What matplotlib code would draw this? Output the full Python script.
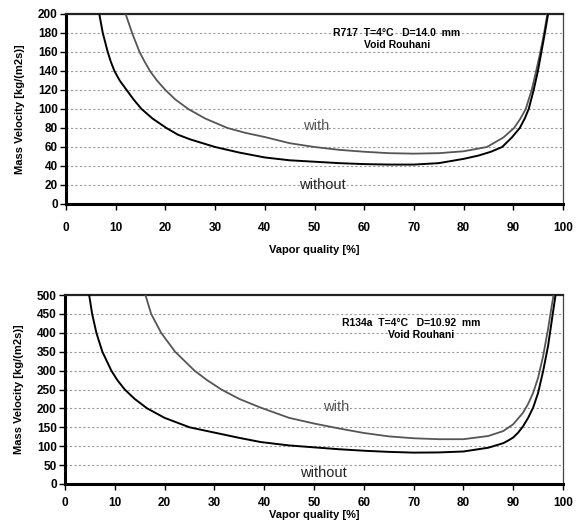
import matplotlib
matplotlib.use("Agg")
import matplotlib.pyplot as plt

plt.rcParams['font.family'] = ['Liberation Sans', 'DejaVu Sans']

# ---- R717 (ammonia), D = 14.0 mm ----
r717_without_x = [6.0, 6.7, 7.4, 8.4, 9.0, 9.75, 10.8, 12.2, 13.6, 15.2, 17.4, 20.2, 22.5,
                  25.0, 27.5, 30.0, 35.0, 40.0, 45.0, 50.0, 55.0, 60.0, 65.0, 70.0, 75.0,
                  80.0, 83.0, 85.5, 87.75, 89.7, 91.3, 92.3, 93.1, 94.1, 94.95, 95.65,
                  96.35, 97.0, 97.55]
r717_without_y = [222, 200, 180, 160, 150, 140, 130, 120, 110, 100, 90, 80, 73,
                  68, 64, 60, 54, 49, 46, 44.5, 43, 42, 41.5, 41.5, 43,
                  47.5, 51, 55, 60, 70, 80, 90, 100, 120, 140, 160,
                  180, 200, 220]
r717_with_x = [11.4, 12.0, 13.3, 14.8, 15.8, 16.9, 18.3, 20.0, 22.0, 24.6, 28.0, 32.5, 36.0,
               40.0, 45.0, 50.0, 55.0, 60.0, 65.0, 70.0, 75.0, 80.0, 84.7, 88.0, 90.15,
               91.45, 92.5, 93.7, 94.6, 95.45, 96.2, 96.85, 97.35]
r717_with_y = [215, 200, 180, 160, 150, 140, 130, 120, 110, 100, 90, 80, 75,
               70.5, 64, 60, 57, 55, 53.5, 53, 53.5, 55.5, 60, 70, 80,
               90, 100, 120, 140, 160, 180, 200, 220]

# ---- R134a, D = 10.92 mm ----
r134a_without_x = [4.6, 4.85, 5.45, 6.3, 7.5, 9.3, 10.5, 12.0, 14.0, 16.5, 20.0, 25.0, 30.0,
                   35.0, 39.3, 45.0, 50.0, 55.0, 60.0, 65.0, 70.0, 75.0, 80.0, 85.0, 88.0,
                   89.0, 90.0, 91.0, 92.0, 93.0, 94.0, 95.0, 96.0, 97.0, 97.5, 98.0,
                   98.5, 98.85]
r134a_without_y = [530, 500, 450, 400, 350, 300, 275, 250, 225, 200, 175, 150, 136,
                   122, 111, 102, 97, 92, 88, 85, 83, 83.5, 86, 96, 108,
                   115, 123, 136, 153, 175, 202, 241, 298, 365, 410, 455,
                   500, 540]
r134a_with_x = [15.8, 16.15, 17.3, 19.3, 22.1, 26.0, 28.5, 31.4, 35.0, 39.3, 45.0, 50.0,
                55.0, 60.0, 65.0, 70.0, 75.0, 80.0, 85.0, 88.0, 90.0, 92.0, 93.0, 94.0,
                95.0, 96.0, 97.0, 97.6, 98.1, 98.45]
r134a_with_y = [530, 500, 450, 400, 350, 300, 275, 250, 225, 202, 175, 160,
                147, 135, 126, 121, 118.5, 118.5, 127, 140, 158, 189, 212, 241,
                281, 338, 410, 460, 500, 540]

x_ticks = list(range(0, 101, 10))
top_y_ticks = list(range(0, 201, 20))
bottom_y_ticks = list(range(0, 501, 50))

W, H = 587, 532
fig = plt.figure(figsize=(W / 100, H / 100), dpi=100)


def px_axes(left, top, right, bottom):
    return fig.add_axes([left / W, 1 - bottom / H, (right - left) / W, (bottom - top) / H])


def style_axes(ax, yticks, ymax, xpad):
    ax.set_xlim(0, 100)
    ax.set_ylim(0, ymax)
    ax.set_xticks(x_ticks)
    ax.set_yticks(yticks)
    for y in yticks[1:-1]:
        ax.axhline(y, color='#9a9a9a', lw=0.8, ls=(0, (2, 2)), zorder=1)
    for side in ('left', 'bottom'):
        ax.spines[side].set_linewidth(2.2)
        ax.spines[side].set_color('black')
    ax.spines['top'].set_linewidth(1.6)
    ax.spines['top'].set_color('#222222')
    ax.spines['right'].set_linewidth(0.9)
    ax.spines['right'].set_color('#444444')
    ax.tick_params(direction='out', length=4, width=1, colors='black', labelsize=8.5)
    ax.tick_params(axis='x', pad=xpad)
    ax.tick_params(axis='y', pad=2)
    for lab in ax.get_xticklabels() + ax.get_yticklabels():
        lab.set_fontweight('bold')
    ax.set_ylabel('Mass Velocity [kg/(m2s)]', fontsize=8, fontweight='bold', labelpad=9)


# Top panel: R717
ax1 = px_axes(66, 14, 563, 204)
style_axes(ax1, top_y_ticks, 200, xpad=9)
ax1.plot(r717_with_x, r717_with_y, color='#555555', lw=1.3, zorder=3)
ax1.plot(r717_without_x, r717_without_y, color='black', lw=1.4, zorder=3)
ax1.set_xlabel('Vapor quality [%]', fontsize=8, fontweight='bold', labelpad=8)
ax1.text(66.6, 180, 'R717  T=4°C   D=14.0  mm', fontsize=7.5, fontweight='bold',
         ha='center', va='center')
ax1.text(66.6, 167.5, 'Void Rouhani', fontsize=7.5, fontweight='bold', ha='center', va='center')
ax1.text(50.3, 82, 'with', fontsize=10.5, color='#555555', ha='center', va='center')
ax1.text(51.6, 20, 'without', fontsize=10.5, color='#222222', ha='center', va='center')

# Bottom panel: R134a
ax2 = px_axes(65, 295, 563, 484)
style_axes(ax2, bottom_y_ticks, 500, xpad=5)
ax2.plot(r134a_with_x, r134a_with_y, color='#555555', lw=1.3, zorder=3)
ax2.plot(r134a_without_x, r134a_without_y, color='black', lw=1.4, zorder=3)
ax2.set_xlabel('Vapor quality [%]', fontsize=8, fontweight='bold', labelpad=1)
ax2.text(69.5, 427, 'R134a  T=4°C   D=10.92  mm', fontsize=7.5, fontweight='bold',
         ha='center', va='center')
ax2.text(71.5, 394, 'Void Rouhani', fontsize=7.5, fontweight='bold', ha='center', va='center')
ax2.text(54.4, 204, 'with', fontsize=10.5, color='#555555', ha='center', va='center')
ax2.text(51.9, 29, 'without', fontsize=10.5, color='#222222', ha='center', va='center')

fig.savefig('out.png', dpi=100)
